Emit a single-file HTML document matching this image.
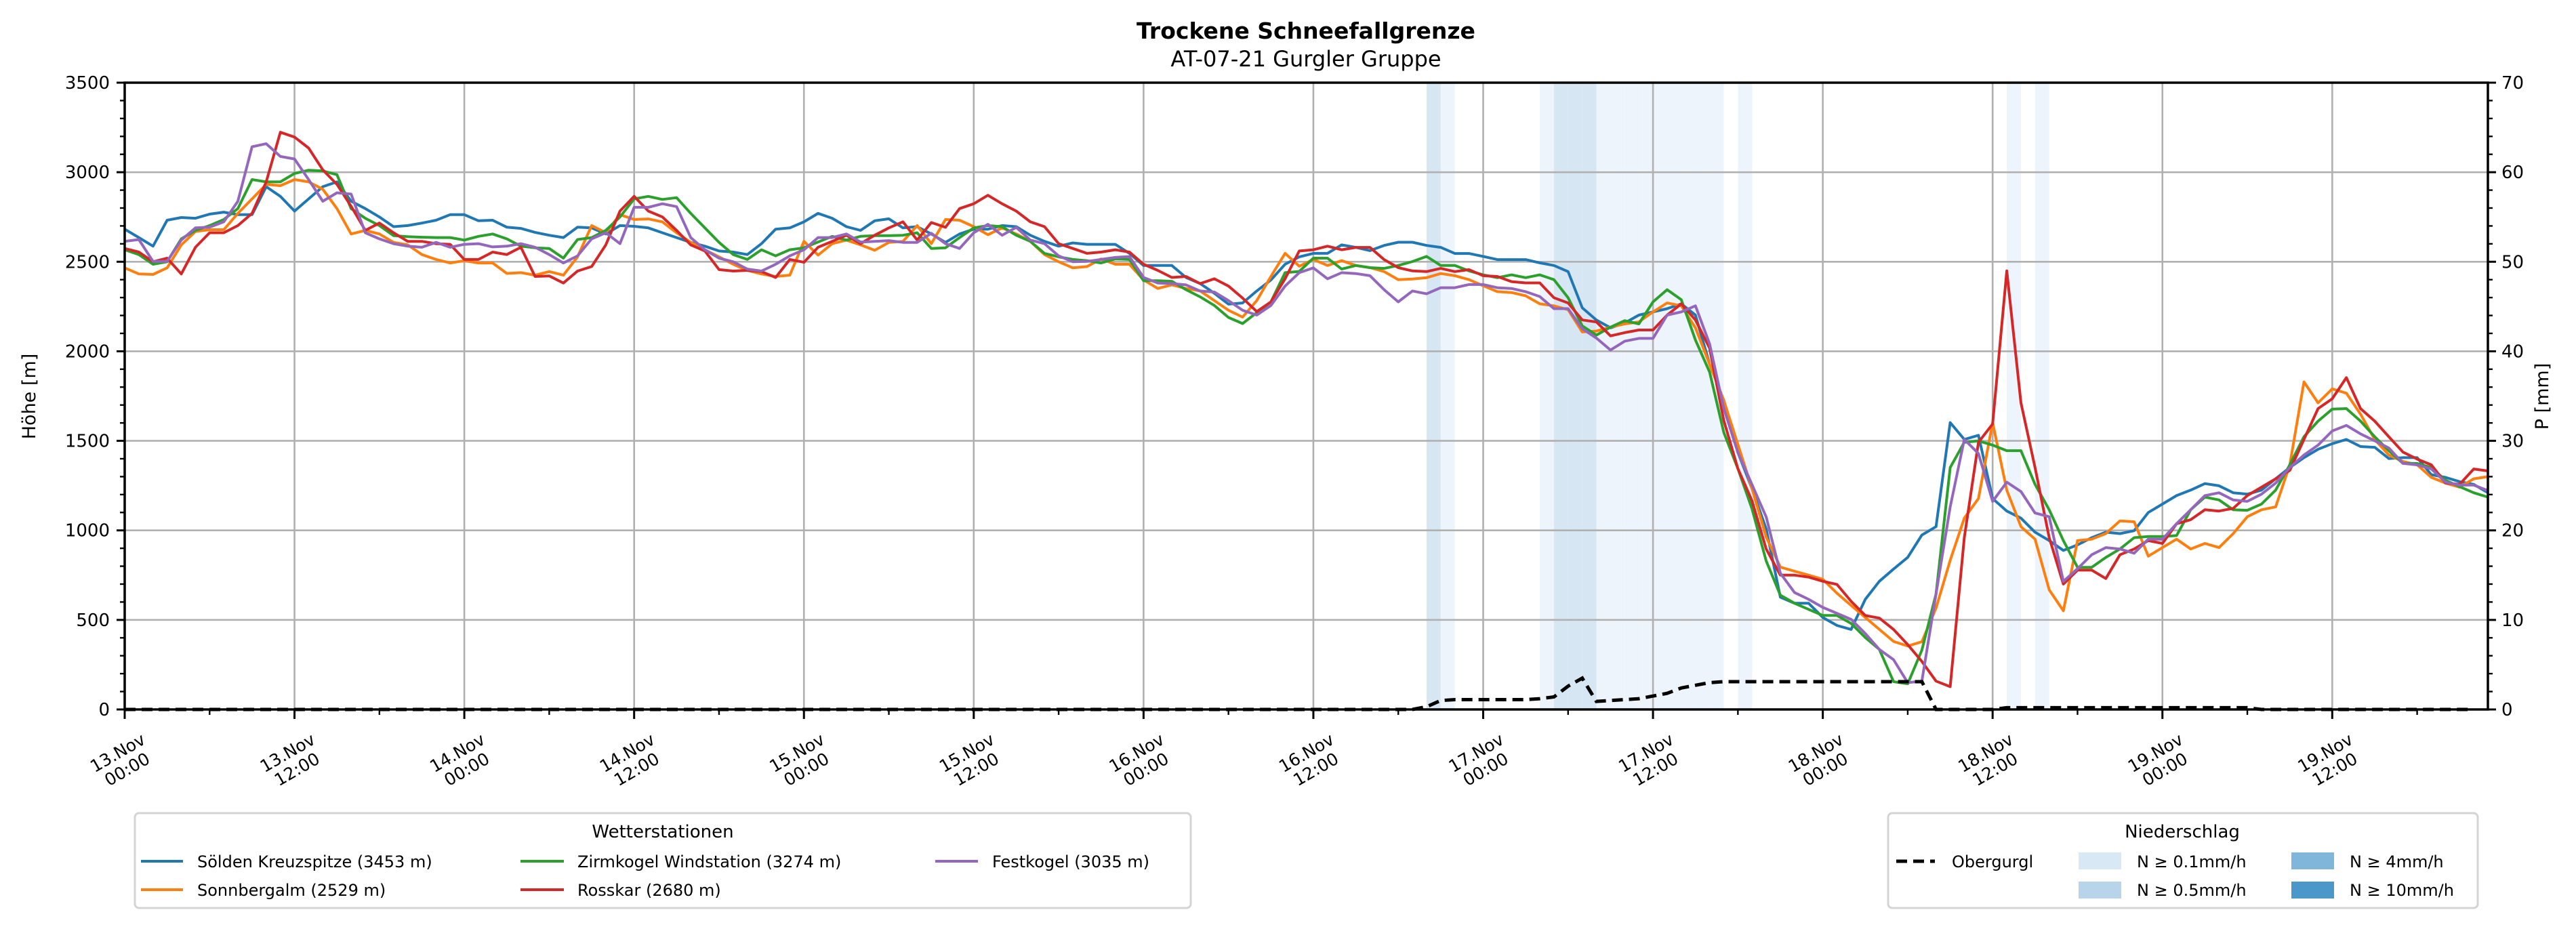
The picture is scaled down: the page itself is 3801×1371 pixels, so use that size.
<!DOCTYPE html>
<html><head><meta charset="utf-8"><style>
html,body{margin:0;padding:0;background:#fff;}
svg{display:block;font-family:"DejaVu Sans","Liberation Sans",sans-serif;}
</style></head><body>
<svg id="chart" width="3801" height="1371" viewBox="0 0 3801 1371" xmlns="http://www.w3.org/2000/svg">
<rect x="0" y="0" width="3801" height="1371" fill="#fff"/>
<text x="1927" y="57" text-anchor="middle" font-size="33" font-weight="bold">Trockene Schneefallgrenze</text>
<text x="1927" y="98" text-anchor="middle" font-size="32">AT-07-21 Gurgler Gruppe</text>
<g id="bands"></g>
<g id="grid"></g>
<g id="series"></g>
<g id="axes"></g>
<text transform="translate(52,585) rotate(-90)" text-anchor="middle" font-size="27">Höhe [m]</text>
<text transform="translate(3760,585) rotate(-90)" text-anchor="middle" font-size="27">P [mm]</text>

<g>
<rect x="199" y="1200" width="1558" height="140" rx="6" fill="#fff" stroke="#d4d4d4" stroke-width="3"/>
<text x="978" y="1236" text-anchor="middle" font-size="26">Wetterstationen</text>
<g><line x1="208" y1="1271" x2="270" y2="1271" stroke="#1f77b4" stroke-width="4"/><text x="291" y="1280" font-size="24">Sölden Kreuzspitze (3453 m)</text></g>
<g><line x1="208" y1="1313" x2="270" y2="1313" stroke="#ff7f0e" stroke-width="4"/><text x="291" y="1322" font-size="24">Sonnbergalm (2529 m)</text></g>
<g><line x1="768" y1="1271" x2="832" y2="1271" stroke="#2ca02c" stroke-width="4"/><text x="852" y="1280" font-size="24">Zirmkogel Windstation (3274 m)</text></g>
<g><line x1="768" y1="1313" x2="832" y2="1313" stroke="#d62728" stroke-width="4"/><text x="852" y="1322" font-size="24">Rosskar (2680 m)</text></g>
<g><line x1="1380" y1="1271" x2="1443" y2="1271" stroke="#9467bd" stroke-width="4"/><text x="1464" y="1280" font-size="24">Festkogel (3035 m)</text></g>
</g>

<g>
<rect x="2786" y="1200" width="870" height="140" rx="6" fill="#fff" stroke="#d4d4d4" stroke-width="3"/>
<text x="3220" y="1236" text-anchor="middle" font-size="26">Niederschlag</text>
<g><line x1="2798" y1="1271" x2="2855" y2="1271" stroke="#000" stroke-width="5" stroke-dasharray="16,9"/><text x="2880" y="1280" font-size="24">Obergurgl</text></g>
<g><rect x="3067" y="1258" width="63" height="25" fill="#d9e8f5"/><text x="3153" y="1280" font-size="24">N ≥ 0.1mm/h</text></g>
<g><rect x="3067" y="1301" width="63" height="25" fill="#b7d4ea"/><text x="3153" y="1322" font-size="24">N ≥ 0.5mm/h</text></g>
<g><rect x="3381" y="1258" width="63" height="25" fill="#7fb6d9"/><text x="3467" y="1280" font-size="24">N ≥ 4mm/h</text></g>
<g><rect x="3381" y="1301" width="63" height="25" fill="#4a98c9"/><text x="3467" y="1322" font-size="24">N ≥ 10mm/h</text></g>
</g>
</svg>
<script>
const yTicks = [0,500,1000,1500,2000,2500,3000,3500];
const y2Ticks = [0,10,20,30,40,50,60,70];
const xTickHours = [0,12,24,36,48,60,72,84,96,108,120,132,144,156];
const xTickDays = ["13.Nov","13.Nov","14.Nov","14.Nov","15.Nov","15.Nov","16.Nov","16.Nov","17.Nov","17.Nov","18.Nov","18.Nov","19.Nov","19.Nov"];
const xTickTimes = ["00:00","12:00","00:00","12:00","00:00","12:00","00:00","12:00","00:00","12:00","00:00","12:00","00:00","12:00"];

const soelden = [2682,2635,2587,2732,2747,2743,2766,2777,2763,2763,2919,2865,2783,2851,2919,2946,2838,2797,2750,2696,2702,2716,2732,2763,2763,2729,2732,2693,2686,2664,2648,2635,2693,2689,2655,2702,2698,2689,2662,2635,2608,2587,2560,2554,
2540,2601,2682,2689,2723,2770,2743,2696,2675,2729,2740,2689,2696,2655,2608,2655,2682,2682,2702,2696,2648,2614,2587,2605,2597,2597,2597,2547,2479,2479,2479,2412,2378,2324,2263,2270,2337,2398,2486,2527,2547,2547,2594,
2580,2562,2591,2609,2609,2591,2580,2546,2546,2530,2512,2512,2512,2494,2479,2445,2243,2175,2131,2158,2202,2220,2238,2265,2202,1928,1726,1435,1233,1008,627,593,593,514,469,447,615,716,784,
849,974,1021,1602,1508,1531,1178,1108,1068,990,943,888,919,959,990,982,998,1100,1147,1194,1225,1261,1249,1210,1202,1225,1288,1351,1406,1453,1484,1508,1468,1464,1401,1406,1406,1311,1296,1272,1257,1210];
const sonnbergalm = [2466,2432,2429,2466,2594,2669,2679,2679,2770,2851,2932,2925,2959,2946,2905,2797,2655,2675,2655,2608,2594,2540,2513,2493,2506,2493,2493,2435,2439,2425,2445,2425,2527,2702,2662,2763,2736,2739,2723,2662,2608,2567,2527,2486,
2452,2432,2418,2425,2614,2537,2601,2621,2594,2564,2608,2614,2702,2601,2736,2732,2696,2651,2689,2655,2614,2540,2500,2466,2473,2516,2486,2486,2398,2351,2371,2351,2337,2283,2229,2191,2283,2418,2547,2475,2513,2479,2506,
2479,2467,2445,2400,2404,2411,2434,2422,2400,2366,2333,2328,2310,2265,2254,2232,2108,2113,2135,2153,2164,2220,2270,2254,2131,1928,1726,1480,1233,963,795,772,750,727,649,581,514,447,380,
354,378,566,833,1068,1178,1602,1225,1021,951,668,551,943,951,982,1053,1048,856,904,951,896,927,904,982,1076,1115,1131,1366,1829,1712,1790,1766,1649,1508,1421,1385,1366,1296,1264,1241,1288,1300];
const zirmkogel = [2567,2540,2486,2500,2628,2675,2702,2736,2797,2959,2946,2946,2993,3011,3007,2986,2797,2743,2702,2646,2640,2637,2635,2635,2621,2642,2655,2628,2587,2578,2574,2520,2624,2635,2675,2750,2851,2865,2848,2858,2770,2689,2608,2540,
2513,2567,2533,2567,2578,2610,2642,2621,2642,2646,2646,2648,2662,2574,2578,2635,2689,2702,2696,2648,2614,2547,2527,2513,2506,2493,2516,2513,2394,2394,2391,2344,2304,2256,2189,2155,2216,2276,2439,2446,2520,2520,2459,
2479,2467,2463,2479,2501,2530,2479,2479,2449,2427,2411,2427,2411,2427,2400,2299,2142,2090,2135,2171,2153,2276,2344,2288,2063,1884,1547,1345,1120,829,638,593,559,525,525,480,402,335,155,
143,331,645,1351,1492,1500,1476,1445,1445,1257,1115,943,794,794,849,896,959,966,966,971,1115,1186,1170,1115,1112,1147,1225,1366,1523,1610,1677,1680,1610,1523,1445,1374,1374,1351,1280,1244,1210,1186];
const rosskar = [2574,2554,2500,2520,2432,2581,2662,2662,2702,2770,2946,3223,3196,3135,3013,2932,2810,2675,2716,2662,2614,2614,2601,2597,2513,2513,2554,2540,2581,2418,2421,2381,2448,2473,2594,2783,2865,2783,2750,2675,2594,2560,2456,2448,
2452,2445,2412,2513,2497,2581,2614,2648,2601,2648,2689,2723,2621,2719,2692,2797,2824,2871,2824,2783,2723,2696,2601,2574,2547,2554,2567,2554,2486,2452,2412,2418,2378,2405,2364,2297,2222,2276,2405,2560,2567,2587,2567,
2580,2580,2512,2467,2449,2445,2463,2445,2456,2422,2418,2389,2382,2382,2299,2270,2175,2164,2086,2104,2119,2119,2202,2265,2175,2018,1614,1345,1165,896,750,750,739,716,698,604,525,510,447,
362,268,158,127,959,1492,1594,2449,1712,1351,959,700,778,778,731,864,896,943,927,1037,1060,1115,1108,1123,1194,1241,1288,1335,1508,1680,1735,1853,1680,1610,1523,1437,1398,1366,1264,1257,1343,1332];
const festkogel = [2614,2624,2502,2502,2621,2689,2693,2723,2838,3142,3159,3088,3074,2959,2838,2885,2878,2662,2628,2601,2587,2581,2608,2581,2597,2601,2583,2587,2601,2581,2540,2493,2533,2628,2662,2601,2804,2804,2824,2808,2635,2567,2520,2500,
2459,2448,2486,2533,2567,2635,2635,2655,2610,2614,2618,2608,2608,2659,2601,2574,2662,2709,2648,2692,2621,2601,2533,2500,2502,2513,2524,2529,2412,2381,2378,2371,2337,2331,2283,2229,2202,2256,2364,2439,2466,2405,2439,
2434,2422,2344,2276,2337,2321,2355,2355,2373,2373,2355,2351,2333,2306,2238,2238,2126,2074,2007,2056,2072,2072,2202,2220,2254,2041,1682,1435,1255,1075,761,653,615,570,537,503,424,335,278,
150,158,645,1131,1508,1429,1162,1269,1217,1097,1076,715,786,864,904,896,872,951,951,1037,1115,1194,1210,1170,1162,1202,1264,1351,1421,1476,1555,1586,1539,1500,1460,1374,1366,1343,1269,1253,1253,1222];
const obergurglP = [0,0,0,0,0,0,0,0,0,0,0,0,0,0,0,0,0,0,0,0,0,0,0,0,0,0,0,0,0,0,0,0,0,0,0,0,0,0,0,0,0,0,0,0,0,0,0,0,
0,0,0,0,0,0,0,0,0,0,0,0,0,0,0,0,0,0,0,0,0,0,0,0,0,0,0,0,0,0,0,0,0,0,0,0,0,0,0,0,0,0,0,0,
0.3,1.0,1.1,1.1,1.1,1.1,1.1,1.1,1.2,1.4,2.6,3.5,0.9,1.0,1.1,1.2,1.5,1.8,2.4,2.7,3.0,3.1,3.1,3.1,3.1,3.1,3.1,3.1,3.1,3.1,3.1,3.1,3.1,3.1,3.1,3.1,
0,0,0,0,0,0.2,0.2,0.2,0.2,0.2,0.2,0.2,0.2,0.2,0.2,0.2,0.2,0.2,0.2,0.2,0.2,0.2,0.2,0,0,0,0,0,0,0,0,0,0,0,0,0,0,0,0];
const bandHours = [92,93,100,101,102,103,104,105,106,107,108,109,110,111,112,114,133,135];
const bandClass = [2,1,1,2,2,2,1,1,1,1,1,1,1,1,1,1,1,1];

const NS='http://www.w3.org/2000/svg';
const X0=184, X1=3671, Y0=1047, Y1=122, HMAX=167;
function xs(h){return X0+(X1-X0)*h/HMAX;}
function ys(v){return Y0-(Y0-Y1)*v/3500;}
function ys2(p){return Y0-(Y0-Y1)*p/70;}
function mk(tag,attrs,parent){const e=document.createElementNS(NS,tag);for(const k in attrs)e.setAttribute(k,attrs[k]);parent.appendChild(e);return e;}

const gBands=document.getElementById('bands');
const bandFill={1:'#eef4fb',2:'#d7e6f3',3:'#a9cbe5',4:'#79b0d8'};
bandHours.forEach((h,i)=>{
  const r=mk('rect',{x:xs(h),y:Y1,width:xs(h+1)-xs(h),height:Y0-Y1,fill:bandFill[bandClass[i]]},gBands);
  
  
});

const gGrid=document.getElementById('grid');
yTicks.forEach(v=>{const l=mk('line',{x1:X0,x2:X1,y1:ys(v),y2:ys(v),stroke:'#b0b0b0','stroke-width':2.6},gGrid);
  
  });
xTickHours.forEach(h=>{const l=mk('line',{x1:xs(h),x2:xs(h),y1:Y1,y2:Y0,stroke:'#b0b0b0','stroke-width':2.6},gGrid);
  
  });

const gS=document.getElementById('series');
function line(arr,color,name){
  const pts=arr.map((v,i)=>xs(i).toFixed(1)+','+ys(v).toFixed(1)).join(' ');
  const p=mk('polyline',{points:pts,fill:'none',stroke:color,'stroke-width':4,'stroke-linejoin':'round'},gS);
  
  
}
line(soelden,'#1f77b4','series-soelden-kreuzspitze');
line(sonnbergalm,'#ff7f0e','series-sonnbergalm');
line(zirmkogel,'#2ca02c','series-zirmkogel');
line(rosskar,'#d62728','series-rosskar');
line(festkogel,'#9467bd','series-festkogel');
{
  const pts=obergurglP.map((v,i)=>xs(i).toFixed(1)+','+ys2(v).toFixed(1)).join(' ');
  const p=mk('polyline',{points:pts,fill:'none',stroke:'#000','stroke-width':5,'stroke-dasharray':'16,9'},gS);
  
  
}

const gA=document.getElementById('axes');
mk('rect',{x:X0,y:Y1,width:X1-X0,height:Y0-Y1,fill:'none',stroke:'#000','stroke-width':3.5},gA);
for(let v=0;v<=3500;v+=100){const major=v%500===0;
  mk('line',{x1:X0,x2:X0-(major?12:7),y1:ys(v),y2:ys(v),stroke:'#000','stroke-width':major?3:2.4},gA);}
yTicks.forEach(v=>{const t=mk('text',{x:X0-22,y:ys(v)+9,'text-anchor':'end','font-size':26},gA);t.textContent=v;
  
  });
for(let p=0;p<=70;p+=2){const major=p%10===0;
  mk('line',{x1:X1,x2:X1+(major?12:7),y1:ys2(p),y2:ys2(p),stroke:'#000','stroke-width':major?3:2.4},gA);}
y2Ticks.forEach(p=>{const t=mk('text',{x:X1+20,y:ys2(p)+9,'text-anchor':'start','font-size':26},gA);t.textContent=p;
  
  });
for(let h=0;h<=HMAX;h+=6){const major=h%12===0;
  mk('line',{x1:xs(h),x2:xs(h),y1:Y0,y2:Y0+(major?14:8),stroke:'#000','stroke-width':major?3:2.4},gA);}
xTickHours.forEach((h,i)=>{
  const g=mk('g',{transform:'translate('+(xs(h)-4)+',1122) rotate(-30)'},gA);
  
  
  const t1=mk('text',{x:0,y:-4,'text-anchor':'middle','font-size':25},g);t1.textContent=xTickDays[i];
  const t2=mk('text',{x:0,y:24,'text-anchor':'middle','font-size':25},g);t2.textContent=xTickTimes[i];
});
</script>
</body></html>
